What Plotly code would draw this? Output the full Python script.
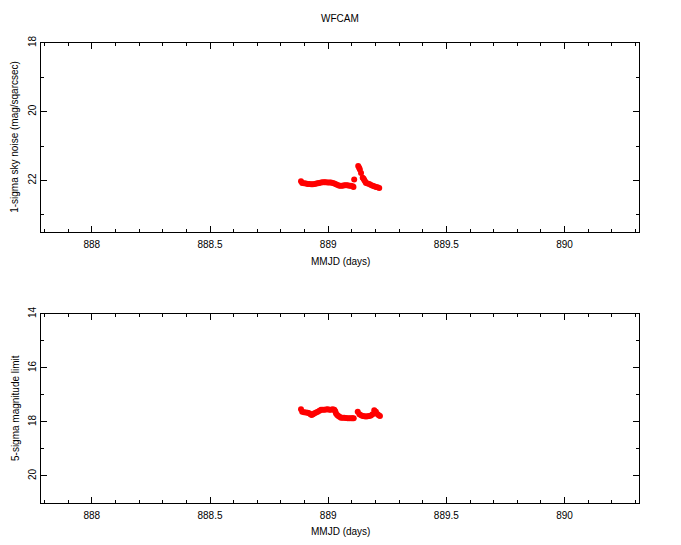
import plotly.graph_objects as go
from plotly.subplots import make_subplots

# Top panel: 1-sigma sky noise (mag/sqarcsec)
top_mjd = [888.885, 888.890, 888.898, 888.906, 888.913, 888.920, 888.928, 888.935, 888.943,
           888.950, 888.957, 888.962, 888.970, 888.977, 888.984, 888.990, 888.998, 889.005,
           889.012, 889.019, 889.026, 889.033, 889.040, 889.047, 889.054, 889.061, 889.068,
           889.075, 889.082, 889.089, 889.096, 889.104, 889.107, 889.110, 889.127, 889.131,
           889.134, 889.139, 889.146, 889.150, 889.153, 889.157, 889.160, 889.167, 889.174,
           889.181, 889.188, 889.195, 889.202, 889.209, 889.216]
top_noise = [22.02, 22.07, 22.08, 22.09, 22.10, 22.10, 22.11, 22.11, 22.10,
             22.09, 22.08, 22.07, 22.06, 22.05, 22.05, 22.05, 22.06, 22.06,
             22.06, 22.07, 22.09, 22.11, 22.13, 22.15, 22.15, 22.15, 22.14,
             22.14, 22.14, 22.15, 22.15, 22.17, 22.19, 21.97, 21.58, 21.63,
             21.68, 21.78, 21.92, 21.95, 21.99, 22.04, 22.07, 22.09, 22.10,
             22.13, 22.15, 22.17, 22.19, 22.20, 22.22]

# Bottom panel: 5-sigma magnitude limit
bot_mjd = [888.885, 888.890, 888.898, 888.906, 888.913, 888.920, 888.925, 888.930, 888.936,
           888.942, 888.949, 888.956, 888.963, 888.970, 888.977, 888.984, 888.991, 888.998,
           889.005, 889.012, 889.019, 889.026, 889.030, 889.033, 889.038, 889.043, 889.048,
           889.054, 889.061, 889.068, 889.075, 889.083, 889.090, 889.097, 889.103, 889.108,
           889.125, 889.132, 889.139, 889.146, 889.153, 889.160, 889.167, 889.174, 889.181,
           889.188, 889.195, 889.202, 889.209, 889.214, 889.219]
bot_limit = [17.53, 17.62, 17.64, 17.65, 17.66, 17.68, 17.71, 17.74, 17.71,
             17.68, 17.65, 17.62, 17.58, 17.55, 17.55, 17.55, 17.54, 17.53,
             17.55, 17.55, 17.53, 17.55, 17.60, 17.69, 17.74, 17.78, 17.81,
             17.84, 17.84, 17.84, 17.85, 17.86, 17.86, 17.86, 17.86, 17.86,
             17.62, 17.71, 17.75, 17.78, 17.79, 17.80, 17.79, 17.78, 17.76,
             17.71, 17.57, 17.62, 17.71, 17.75, 17.78]

FONT = "Liberation Sans"
RED = "#ff0000"

fig = make_subplots(rows=2, cols=1)
fig.add_trace(go.Scatter(x=top_mjd, y=top_noise, mode="markers",
                         marker=dict(color=RED, size=6, line=dict(width=0))), row=1, col=1)
fig.add_trace(go.Scatter(x=bot_mjd, y=bot_limit, mode="markers",
                         marker=dict(color=RED, size=6, line=dict(width=0))), row=2, col=1)

xcommon = dict(range=[887.785, 890.315], tickvals=[888, 888.5, 889, 889.5, 890],
               ticktext=["888", "888.5", "889", "889.5", "890"],
               ticks="inside", ticklen=6, tickwidth=1, tickcolor="black",
               minor=dict(dtick=0.1, ticks="inside", ticklen=3, tickcolor="black", tickwidth=1),
               showline=True, linecolor="black", linewidth=1, mirror="allticks",
               showgrid=False, zeroline=False, ticklabelstandoff=3,
               tickfont=dict(family=FONT, size=10, color="black"))
fig.update_xaxes(**xcommon)

ycommon = dict(ticks="inside", ticklen=6, tickwidth=1, tickcolor="black",
               showline=True, linecolor="black", linewidth=1, mirror="allticks",
               showgrid=False, zeroline=False, tickangle=-90,
               tickfont=dict(family=FONT, size=10, color="black"))
fig.update_yaxes(**ycommon)
fig.update_yaxes(range=[23.5, 18], tickvals=[18, 20, 22], ticktext=["18", "20", "22"],
                 minor=dict(dtick=1, tick0=0, ticks="inside", ticklen=3, tickcolor="black", tickwidth=1),
                 row=1, col=1)
fig.update_yaxes(range=[21, 14], tickvals=[14, 16, 18, 20], ticktext=["14", "16", "18", "20"],
                 minor=dict(dtick=1, tick0=0, ticks="inside", ticklen=3, tickcolor="black", tickwidth=1),
                 row=2, col=1)

ann = dict(xref="paper", yref="paper", showarrow=False, xanchor="center", yanchor="middle",
           font=dict(family=FONT, size=10, color="black"))
fig.update_layout(
    width=681, height=545,
    margin=dict(l=41, r=42, t=43, b=42),
    paper_bgcolor="white", plot_bgcolor="white",
    showlegend=False,
    font=dict(family=FONT, size=10, color="black"),
    xaxis=dict(domain=[0, 1]), yaxis=dict(domain=[0.589, 1.0]),
    xaxis2=dict(domain=[0, 1]), yaxis2=dict(domain=[0.0, 0.411]),
    annotations=[
        dict(text="WFCAM", x=0.5, y=1.054, **ann),
        dict(text="MMJD (days)", x=0.5, y=0.524, **ann),
        dict(text="MMJD (days)", x=0.5, y=-0.063, **ann),
        dict(text="1-sigma sky noise (mag/sqarcsec)", x=-0.0435, y=0.796, textangle=-90, **ann),
        dict(text="5-sigma magnitude limit", x=-0.0435, y=0.2065, textangle=-90, **ann),
    ],
)

fig.write_html("out.html", config={"displayModeBar": False},
               post_script="document.body.style.margin='0';document.body.style.padding='0';")
